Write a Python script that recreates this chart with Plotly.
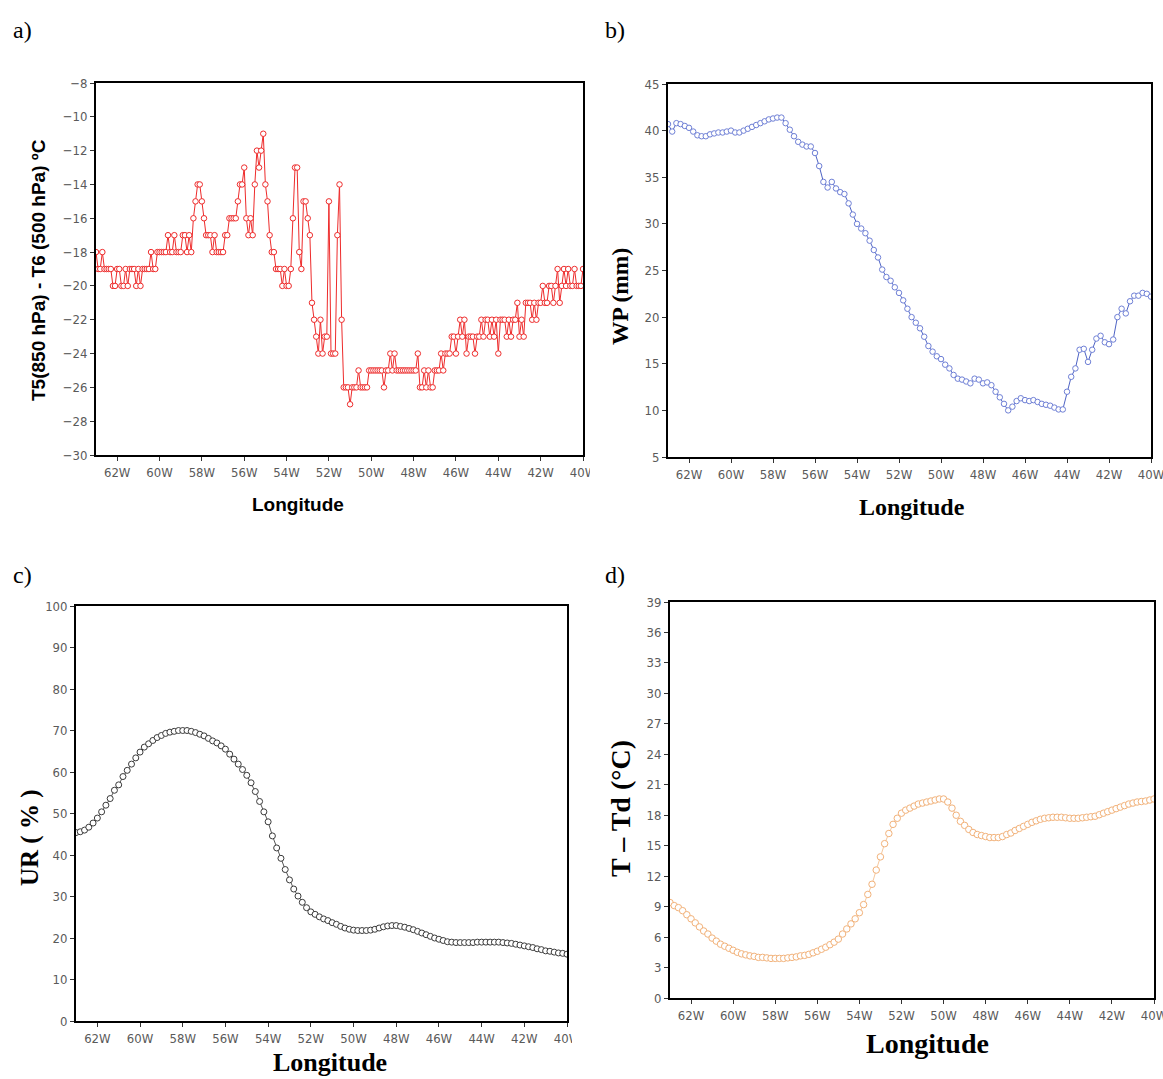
import numpy as np
import plotly.graph_objects as go

# ---------------- data ----------------
lon_ticks = [-62, -60, -58, -56, -54, -52, -50, -48, -46, -44, -42, -40]
lon_ticktext = ["62W", "60W", "58W", "56W", "54W", "52W", "50W", "48W", "46W", "44W", "42W", "40W"]

# panel a: T5(850 hPa) - T6(500 hPa), sampled every 0.1 deg from 63W
t5t6 = [-18, -19, -19, -18, -19, -19, -19, -19, -20, -20,
        -19, -19, -20, -20, -19, -20, -19, -19, -19, -20,
        -19, -20, -19, -19, -19, -19, -18, -19, -19, -18,
        -18, -18, -18, -18, -17, -18, -18, -17, -18, -18,
        -18, -17, -17, -18, -17, -18, -16, -15, -14, -14,
        -15, -16, -17, -17, -17, -18, -17, -18, -18, -18,
        -18, -17, -17, -16, -16, -16, -16, -15, -14, -14,
        -13, -16, -17, -16, -17, -14, -12, -13, -12, -11,
        -14, -15, -17, -18, -18, -19, -19, -19, -20, -19,
        -20, -20, -19, -16, -13, -13, -18, -19, -15, -15,
        -16, -17, -21, -22, -23, -24, -22, -24, -23, -23,
        -15, -24, -24, -24, -17, -14, -22, -26, -26, -26,
        -27, -26, -26, -26, -25, -26, -26, -26, -26, -25,
        -25, -25, -25, -25, -25, -25, -26, -25, -25, -24,
        -25, -24, -25, -25, -25, -25, -25, -25, -25, -25,
        -25, -25, -24, -26, -26, -25, -26, -25, -26, -26,
        -25, -25, -25, -24, -25, -24, -24, -24, -23, -23,
        -24, -23, -22, -23, -22, -24, -23, -23, -23, -24,
        -23, -23, -22, -23, -22, -22, -23, -22, -23, -22,
        -24, -22, -22, -22, -23, -22, -23, -22, -22, -21,
        -23, -22, -23, -21, -21, -21, -22, -21, -22, -21,
        -21, -20, -21, -21, -20, -20, -21, -20, -19, -21,
        -20, -19, -20, -19, -20, -20, -19, -20, -20, -20,
        -19]
step_a = 0.1

# panel b: precipitable water (mm), every 0.2 deg from 63W
wp = [40.7, 39.9, 40.8, 40.7, 40.5, 40.3, 39.9, 39.5, 39.4, 39.4, 39.6, 39.7, 39.8, 39.8,
      39.9, 40.0, 39.8, 39.8, 40.0, 40.2, 40.4, 40.6, 40.8, 41.0, 41.2, 41.3, 41.4, 41.4,
      40.8, 40.1, 39.4, 38.8, 38.5, 38.3, 38.3, 37.6, 36.2, 34.5, 33.9, 34.5, 33.8, 33.4,
      33.2, 32.2, 31.0, 30.0, 29.5, 29.0, 28.2, 27.2, 26.4, 25.1, 24.3, 23.9, 23.2, 22.6,
      21.8, 20.9, 20.0, 19.4, 18.8, 17.9, 16.9, 16.3, 15.8, 15.5, 14.9, 14.5, 13.8, 13.4,
      13.3, 13.1, 12.9, 13.4, 13.3, 12.9, 13.0, 12.7, 12.0, 11.4, 10.7, 10.0, 10.4, 11.0,
      11.3, 11.1, 11.0, 11.1, 10.9, 10.7, 10.6, 10.5, 10.3, 10.1, 10.1, 12.0, 13.6, 14.5,
      16.5, 16.6, 15.2, 16.5, 17.7, 18.0, 17.3, 17.1, 17.6, 20.0, 20.9, 20.4, 21.7, 22.3,
      22.3, 22.6, 22.5, 22.2]

# panel c: relative humidity (%), every 0.2 deg from 63W
ur = [45.4, 45.6, 46.0, 46.7, 47.7, 48.9, 50.4, 52.0, 53.6, 55.6, 56.9, 58.9, 60.4, 61.9,
      63.4, 64.8, 66.0, 66.8, 67.6, 68.3, 68.8, 69.3, 69.6, 69.8, 70.0, 70.0, 70.0, 69.8,
      69.5, 69.1, 68.7, 68.1, 67.5, 67.0, 66.3, 65.5, 64.3, 63.1, 61.9, 60.6, 59.2, 57.4,
      55.3, 52.9, 50.4, 48.0, 44.6, 41.7, 39.2, 36.5, 34.0, 31.8, 30.1, 28.6, 27.3, 26.3,
      25.7, 25.1, 24.6, 24.2, 23.7, 23.3, 22.8, 22.4, 22.1, 21.9, 21.8, 21.8, 21.8, 21.9,
      22.1, 22.4, 22.7, 22.9, 23.0, 23.0, 22.8, 22.6, 22.3, 22.0, 21.6, 21.2, 20.8, 20.4,
      20.0, 19.7, 19.4, 19.1, 19.0, 18.9, 18.9, 18.9, 18.9, 18.9, 19.0, 19.0, 19.0, 19.0,
      19.0, 19.0, 18.9, 18.8, 18.7, 18.5, 18.3, 18.1, 17.9, 17.7, 17.4, 17.2, 16.9, 16.8,
      16.6, 16.4, 16.3, 16.1]

# panel d: dew-point depression (degC), every 0.2 deg from 63W
ttd = [9.4, 9.1, 8.9, 8.6, 8.2, 7.8, 7.4, 7.0, 6.6, 6.3, 5.9, 5.6, 5.3, 5.1, 4.9, 4.7,
       4.5, 4.35, 4.25, 4.15, 4.1, 4.0, 4.0, 3.95, 3.9, 3.9, 3.9, 3.9, 3.95, 4.0, 4.05,
       4.15, 4.2, 4.3, 4.45, 4.6, 4.8, 5.0, 5.25, 5.5, 5.8, 6.3, 6.8, 7.3, 7.8, 8.4, 9.2,
       10.2, 11.2, 12.6, 13.9, 15.2, 16.2, 17.1, 17.7, 18.2, 18.5, 18.7, 18.9, 19.1, 19.2,
       19.3, 19.4, 19.5, 19.6, 19.6, 19.3, 18.7, 18.0, 17.4, 17.0, 16.6, 16.3, 16.1, 16.0,
       15.9, 15.8, 15.8, 15.8, 15.9, 16.1, 16.25, 16.5, 16.7, 16.9, 17.1, 17.3, 17.45, 17.6,
       17.7, 17.75, 17.8, 17.8, 17.8, 17.75, 17.7, 17.7, 17.7, 17.75, 17.8, 17.85, 17.9,
       18.05, 18.2, 18.35, 18.5, 18.65, 18.8, 18.95, 19.1, 19.2, 19.3, 19.35, 19.4, 19.5, 19.6]
step_bcd = 0.2
lon_start = -63.0

lon_a = [round(lon_start + i * step_a, 3) for i in range(len(t5t6))]
lon_b = [round(lon_start + i * step_bcd, 3) for i in range(len(wp))]
lon_c = [round(lon_start + i * step_bcd, 3) for i in range(len(ur))]
lon_d = [round(lon_start + i * step_bcd, 3) for i in range(len(ttd))]

# ---------------- figure ----------------
W, H = 1163, 1079
def px_x(a, b):
    return [a / W, b / W]
def px_y(top, bottom):
    return [1 - bottom / H, 1 - top / H]

dom = {
    "a": (px_x(96, 583), px_y(83, 455)),
    "b": (px_x(668, 1151), px_y(84, 457)),
    "c": (px_x(76, 567), px_y(606, 1021)),
    "d": (px_x(670, 1154), px_y(602, 998)),
}

tickfont = dict(family="Liberation Sans Narrow, DejaVu Sans Condensed, Arial Narrow, sans-serif",
                size=13, color="#5a5a5a")

fig = go.Figure()

def add_series(x, y, n, line_color, marker_line, size, fill="white", lw=1):
    fig.add_trace(go.Scatter(
        x=x, y=y, mode="lines+markers",
        line=dict(color=line_color, width=lw),
        marker=dict(symbol="circle", size=size, color=fill,
                    line=dict(color=marker_line, width=1)),
        xaxis="x" + n, yaxis="y" + n, showlegend=False, cliponaxis=True))

add_series(lon_a, t5t6, "", "#ee2b2b", "#ee2b2b", 5.5)
add_series(lon_b, wp, "2", "#4e63c4", "#6f80d6", 5.5)
add_series(lon_c, ur, "3", "#555555", "#3a3a3a", 6)
add_series(lon_d, ttd, "4", "#f6c79c", "#f2b27a", 6.5)

yspec = {
    "a": dict(range=[-30, -8], dtick=2, tick0=-30),
    "b": dict(range=[5, 45], dtick=5, tick0=5),
    "c": dict(range=[0, 100], dtick=10, tick0=0),
    "d": dict(range=[0, 39], dtick=3, tick0=0),
}

axis_common = dict(showline=True, linecolor="black", linewidth=1.8, mirror=True,
                   showgrid=False, zeroline=False, ticks="outside", ticklen=4,
                   tickcolor="#333333", tickwidth=1, tickfont=tickfont,
                   ticklabeloverflow="allow", automargin=False)

layout = dict(width=W, height=H, margin=dict(l=0, r=0, t=0, b=0, autoexpand=False),
              paper_bgcolor="white", plot_bgcolor="white", showlegend=False)

for k, suf in zip("abcd", ["", "2", "3", "4"]):
    xd, yd = dom[k]
    layout["xaxis" + suf] = dict(domain=xd, anchor="y" + suf, range=[-63, -40],
                                 tickmode="array", tickvals=lon_ticks, ticktext=lon_ticktext,
                                 **axis_common)
    layout["yaxis" + suf] = dict(domain=yd, anchor="x" + suf, tickmode="linear",
                                 **yspec[k], **axis_common)

fig.update_layout(**layout)

# the original panels were cropped just right of the last tick label of a) and c)
for x0, x1, y0, y1 in [(590, 602, 460, 484), (572, 592, 1026, 1050)]:
    fig.add_shape(type="rect", xref="paper", yref="paper",
                  x0=x0 / W, x1=x1 / W, y0=1 - y1 / H, y1=1 - y0 / H,
                  fillcolor="white", line=dict(width=0), layer="above")

serif = "Liberation Serif, Times New Roman, serif"
sans = "Liberation Sans, Arial, sans-serif"

def ann(text, x, y, size, family, angle=0, bold=False):
    t = "<b>" + text + "</b>" if bold else text
    fig.add_annotation(text=t, x=x / W, y=1 - y / H, xref="paper", yref="paper",
                       showarrow=False, textangle=angle, xanchor="center", yanchor="middle",
                       font=dict(family=family, size=size, color="black"))

# panel letters
ann("a)", 22, 30, 24, serif)
ann("b)", 615, 30, 24, serif)
ann("c)", 22, 575, 24, serif)
ann("d)", 615, 575, 24, serif)

# axis titles
ann("T5(850 hPa) - T6 (500 hPa) ºC", 38, 270, 19, sans, -90, True)
ann("Longitude", 298, 505, 19, sans, 0, True)
ann("WP (mm)", 620, 297, 23.5, serif, -90, True)
ann("Longitude", 912, 507, 24, serif, 0, True)
ann("UR ( % )", 30, 838, 25, serif, -90, True)
ann("Longitude", 330, 1062, 26, serif, 0, True)
ann("T – Td (°C)", 620, 809, 28, serif, -90, True)
ann("Longitude", 927, 1043, 28, serif, 0, True)

post = (
    "document.documentElement.style.margin='0';"
    "document.documentElement.style.overflow='hidden';"
    "document.body.style.margin='0';"
    "document.body.style.overflow='hidden';"
    "var gd=document.getElementById('{plot_id}');"
    "var vw=window.innerWidth||%d, vh=window.innerHeight||%d;"
    "if(Math.abs(vw-%d)>1||Math.abs(vh-%d)>1){"
    "gd.style.width=vw+'px';gd.style.height=vh+'px';"
    "Plotly.relayout(gd,{width:vw,height:vh});}"
) % (W, H, W, H)

fig.write_html("out.html", config={"displayModeBar": False}, post_script=post)
